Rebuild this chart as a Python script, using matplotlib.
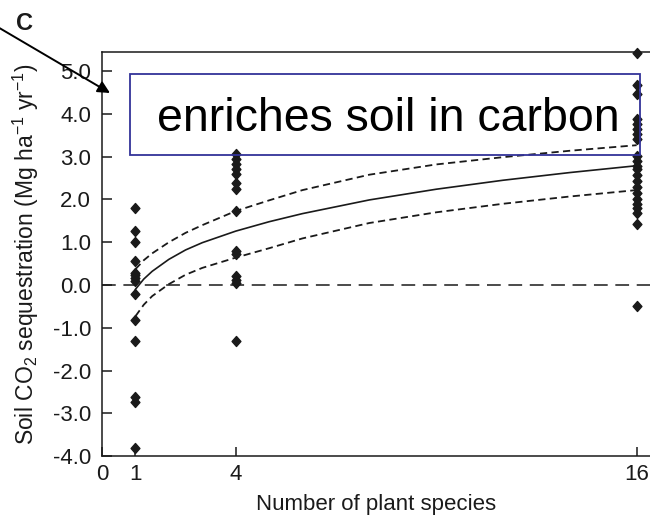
import matplotlib
matplotlib.use("Agg")
import matplotlib.pyplot as plt
from matplotlib.patches import Rectangle
from matplotlib.path import Path

plt.rcParams['font.family'] = ['Liberation Sans', 'DejaVu Sans']
plt.rcParams['axes.unicode_minus'] = False
plt.rcParams['mathtext.default'] = 'regular'

# Soil CO2 sequestration per plot, grouped by species richness
species_1 = [1.80, 1.27, 1.00, 0.56, 0.29, 0.23, 0.16, 0.09, -0.22, -0.81, -1.31, -2.63, -2.73, -3.82]
species_4 = [3.07, 2.95, 2.83, 2.71, 2.59, 2.39, 2.25, 1.73, 0.80, 0.72, 0.20, 0.12, 0.04, -1.31]
species_16 = [5.43, 4.68, 4.47, 3.88, 3.76, 3.65, 3.53, 3.41, 3.02, 2.90, 2.79, 2.71,
              2.58, 2.44, 2.30, 2.16, 2.02, 1.90, 1.80, 1.68, 1.42, -0.48]

# Fitted response and its confidence band
fit_x = [1, 1.25, 1.5, 2, 2.5, 3, 4, 5, 6, 8, 10, 12, 14, 16]
fit_mid = [-0.10, 0.14, 0.32, 0.60, 0.82, 0.99, 1.26, 1.48, 1.67, 1.99, 2.24, 2.45, 2.63, 2.79]
fit_upper = [0.37, 0.58, 0.74, 1.00, 1.22, 1.40, 1.73, 1.98, 2.22, 2.58, 2.82, 2.99, 3.14, 3.27]
fit_lower = [-0.73, -0.46, -0.26, 0.02, 0.24, 0.40, 0.64, 0.86, 1.09, 1.45, 1.70, 1.90, 2.07, 2.22]

x_ticks = [0, 1, 4, 16]
y_ticks = [-4.0, -3.0, -2.0, -1.0, 0.0, 1.0, 2.0, 3.0, 4.0, 5.0]

ink = '#1a1a1a'
diamond = Path([(0, 1), (0.88, 0), (0, -1), (-0.88, 0), (0, 1)],
               [Path.MOVETO, Path.LINETO, Path.LINETO, Path.LINETO, Path.CLOSEPOLY])

fig = plt.figure(figsize=(6.5, 5.22), dpi=100)
ax = fig.add_axes([0.157, 0.1264, 0.843, 0.774])

ax.axhline(0, color=ink, lw=1.1, linestyle=(0, (9, 5)), zorder=1)
ax.plot(fit_x, fit_mid, color=ink, lw=1.2, zorder=2)
ax.plot(fit_x, fit_upper, color=ink, lw=1.3, linestyle=(0, (4, 2.4)), zorder=2)
ax.plot(fit_x, fit_lower, color=ink, lw=1.3, linestyle=(0, (4, 2.4)), zorder=2)

for xv, vals in [(1, species_1), (4, species_4), (16, species_16)]:
    ax.plot([xv] * len(vals), vals, linestyle='none', marker=diamond, ms=7.2,
            color=ink, clip_on=False, zorder=3)

ax.set_xlim(0, 16.4)
ax.set_ylim(-4.0, 5.45)
ax.set_xticks(x_ticks)
ax.set_xticklabels([str(t) for t in x_ticks])
ax.set_yticks(y_ticks)
ax.set_yticklabels([f'{t:.1f}' for t in y_ticks])

for side in ['left', 'bottom', 'top']:
    ax.spines[side].set_linewidth(1.1)
    ax.spines[side].set_color(ink)
ax.spines['right'].set_visible(False)
ax.tick_params(axis='y', direction='in', length=7, width=1.1, color=ink,
               labelsize=16, pad=8, labelcolor=ink)
ax.tick_params(axis='x', direction='in', length=6.5, width=1.1, color=ink,
               labelsize=16, pad=6, labelcolor=ink, top=False)

ax.set_xlabel('Number of plant species', fontsize=16, labelpad=6, color=ink)
ax.set_ylabel(r'Soil CO$_{2}$ sequestration (Mg ha$^{-1}$ yr$^{-1}$)',
              fontsize=16.5, labelpad=8, color=ink)

# Panel letter and pointer arrow
fig.text(24 / 650, 1 - 24 / 522, 'C', fontsize=17, fontweight='bold',
         ha='center', va='center', color=ink)
ax.annotate('', xy=(110, 522 - 93), xycoords='figure pixels',
            xytext=(-4, 522 - 26), textcoords='figure pixels',
            arrowprops=dict(arrowstyle='-|>', color='black', lw=1.4,
                            mutation_scale=18, shrinkA=0, shrinkB=0),
            annotation_clip=False)

# Callout box
fig.add_artist(Rectangle((130 / 650, 1 - 155 / 522), 510 / 650, 81 / 522,
                         transform=fig.transFigure, fill=False,
                         edgecolor='#333399', lw=1.3, zorder=5))
fig.text(388.5 / 650, 1 - 131 / 522, 'enriches soil in carbon', fontsize=33.5,
         ha='center', va='baseline', color='black', zorder=6)

fig.savefig('out.png', dpi=100)
